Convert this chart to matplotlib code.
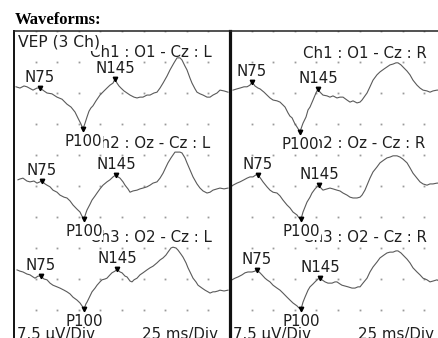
import matplotlib
matplotlib.use("Agg")
import matplotlib.pyplot as plt
import numpy as np

# ---------------- data (ms, uV; positive = P = plotted downward) ----------------
t_left_ch1 = [2.3, 6.9, 11.6, 15.0, 22.0, 26.6, 30.1, 34.7, 38.2, 43.9, 49.8, 55.6, 61.3, 66.0, 70.6, 74.1,
              77.5, 79.9, 82.2, 84.5, 86.8, 89.1, 91.4, 94.9, 99.5, 104.2, 107.6, 111.1, 114.6, 116.9, 119.2,
              121.5, 123.8, 127.3, 130.8, 134.3, 138.9, 142.4, 145.8, 149.3, 153.9, 157.4, 162.0, 165.5, 169.0,
              172.5, 177.1, 180.6, 185.2, 188.7, 192.1, 194.4, 197.9, 200.2, 203.7, 206.0, 209.5, 211.8, 215.3,
              218.8, 223.4, 226.9, 230.3, 235.0, 238.4, 243.1, 247.7]
v_left_ch1 = [-1.5, -1.2, -1.7, -1.5, -0.7, -1.2, -1.2, -0.5, 0.0, 0.2, 1.0, 1.5, 2.7, 3.4, 4.6, 6.1,
              7.5, 8.7, 7.3, 5.8, 4.4, 3.6, 3.1, 1.9, 0.5, -0.5, -1.2, -1.9, -2.4, -3.4, -2.4,
              -1.7, -1.2, -0.5, 0.0, 0.5, 1.0, 1.2, 1.0, 1.0, 0.5, 0.5, 0.0, -0.2, -1.2,
              -2.4, -4.1, -5.6, -7.3, -8.5, -8.5, -8.0, -6.5, -5.6, -3.6, -2.4, -1.0, -0.2, 0.2,
              0.5, 1.0, 1.0, 0.5, 0.0, -0.7, -0.5, -0.2]

t_left_ch2 = [4.6, 6.9, 10.4, 15.0, 18.5, 23.1, 26.6, 32.4, 35.9, 38.2, 41.7, 45.1, 49.8, 53.2, 57.9, 61.3,
              64.8, 68.3, 72.9, 76.4, 78.7, 81.0, 83.3, 84.5, 88.0, 90.3, 93.8, 96.1, 99.5, 103.0, 107.6,
              111.1, 114.6, 118.1, 120.4, 122.7, 126.2, 128.5, 131.9, 134.3, 137.7, 142.4, 145.8, 149.3, 153.9,
              157.4, 160.9, 165.5, 169.0, 172.5, 175.9, 178.2, 181.7, 184.0, 186.3, 188.7, 192.1, 194.4, 197.9,
              200.2, 203.7, 207.2, 211.8, 215.3, 218.8, 223.4, 226.9, 230.3, 235.0, 238.4, 243.1, 247.7]
v_left_ch2 = [-1.5, -1.7, -1.9, -1.2, -1.0, -1.2, -0.7, -1.2, -0.5, -0.2, 0.2, 1.0, 1.5, 2.2, 2.7, 2.9,
              3.6, 4.6, 5.6, 6.3, 7.3, 8.0, 6.5, 5.8, 4.4, 3.4, 2.4, 1.7, 0.7, -0.2, -1.0,
              -1.5, -2.2, -2.7, -2.2, -1.9, -1.0, -0.2, 0.7, 1.5, 1.2, 1.0, 0.7, 0.5, 0.2,
              -0.2, -0.7, -1.0, -1.9, -3.1, -4.6, -5.6, -6.8, -7.5, -8.2, -8.2, -8.2, -8.0, -6.8,
              -5.6, -3.9, -2.2, -0.5, 0.5, 1.2, 1.7, 1.5, 1.0, 0.7, 0.5, 0.7, 0.5]

t_left_ch3 = [3.5, 6.9, 10.4, 15.0, 18.5, 22.0, 24.3, 27.8, 31.3, 34.7, 38.2, 41.7, 45.1, 49.8, 53.2, 57.9,
              61.3, 64.8, 68.3, 72.9, 76.4, 78.7, 81.0, 83.3, 84.5, 88.0, 90.3, 93.8, 96.1, 99.5, 101.9,
              105.3, 107.6, 111.1, 113.4, 116.9, 119.2, 122.7, 125.0, 128.5, 130.8, 134.3, 136.6, 138.9, 142.4,
              145.8, 149.3, 153.9, 157.4, 160.9, 165.5, 169.0, 172.5, 175.9, 178.2, 181.7, 184.0, 187.5, 189.8,
              193.3, 195.6, 199.1, 201.4, 204.9, 207.2, 210.6, 213.0, 217.6, 221.1, 224.5, 226.9, 230.3, 232.6,
              236.1, 238.4, 243.1, 247.7]
v_left_ch3 = [-2.2, -1.9, -1.7, -1.2, -1.0, -0.5, -0.2, -0.7, -0.7, 0.0, 0.2, 1.0, 1.5, 1.9, 2.2, 2.7,
              3.1, 3.6, 4.4, 5.1, 5.8, 6.5, 7.3, 6.0, 5.6, 4.1, 3.1, 2.2, 1.5, 0.7, 0.2,
              0.0, -0.2, -1.0, -1.5, -1.9, -2.4, -1.7, -1.5, -0.7, -0.5, 0.5, 0.7, 0.2, -0.2,
              -1.0, -1.5, -2.2, -2.7, -3.1, -3.9, -4.6, -5.1, -5.8, -6.5, -7.5, -7.7, -7.5, -7.0,
              -6.0, -5.3, -3.9, -2.7, -1.2, -0.2, 0.7, 1.5, 2.2, 2.7, 3.1, 3.4, 3.1, 3.1,
              2.9, 2.7, 2.9, 2.7]

t_right_ch1 = [3.5, 8.1, 11.6, 16.2, 19.7, 23.1, 25.5, 28.9, 32.4, 34.7, 39.4, 42.8, 46.3, 49.8, 54.4, 57.9,
               61.3, 63.7, 67.1, 69.4, 71.8, 75.2, 77.5, 81.0, 83.3, 84.5, 88.0, 90.3, 92.6, 96.1, 99.5,
               101.9, 104.2, 107.6, 112.3, 115.7, 119.2, 123.8, 127.3, 130.8, 135.4, 138.9, 142.4, 147.0, 150.5,
               152.8, 156.2, 158.6, 162.0, 165.5, 170.1, 173.6, 178.2, 181.7, 185.2, 188.7, 192.1, 194.4, 197.9,
               200.2, 204.9, 208.3, 211.8, 216.4, 219.9, 223.4, 228.0, 231.5, 234.9, 239.6, 241.9]
v_right_ch1 = [-0.7, -1.0, -1.2, -1.5, -1.5, -1.9, -2.7, -1.7, -1.2, -1.0, -0.2, 0.5, 1.2, 1.7, 1.9, 2.2,
               2.9, 3.4, 4.8, 5.6, 6.0, 7.5, 8.2, 9.4, 8.0, 7.3, 5.8, 4.1, 3.4, 1.7, 0.0,
               -1.0, -0.2, 0.5, 0.7, 1.0, 0.7, 1.2, 1.0, 1.0, 1.7, 2.2, 1.9, 2.4, 2.2,
               1.7, 0.7, 0.0, -1.5, -3.1, -4.4, -5.1, -5.8, -6.3, -6.8, -7.0, -7.3, -7.3, -6.8,
               -6.3, -5.3, -4.4, -3.1, -1.9, -1.2, -0.7, -0.5, -0.2, -0.5, -0.7, -0.7]

t_right_ch2 = [2.3, 3.5, 8.1, 11.6, 16.2, 19.7, 23.1, 26.6, 30.1, 32.4, 35.9, 38.2, 42.8, 46.3, 49.8, 54.4,
               57.9, 61.3, 66.0, 69.4, 72.9, 77.5, 79.9, 82.2, 84.5, 86.8, 89.1, 92.6, 94.9, 98.4, 100.7,
               103.0, 105.3, 107.6, 112.3, 115.7, 119.2, 123.8, 127.3, 130.8, 135.4, 138.9, 142.4, 147.0, 150.5,
               152.8, 156.2, 158.6, 162.0, 165.5, 170.1, 173.6, 178.2, 181.7, 185.2, 188.7, 193.3, 196.8, 200.2,
               204.9, 208.3, 211.8, 216.4, 219.9, 223.4, 228.0, 231.5, 234.9, 239.6, 241.9]
v_right_ch2 = [0.0, -0.2, -0.7, -1.0, -1.5, -1.9, -2.2, -2.2, -2.7, -2.7, -1.7, -1.0, 0.2, 1.0, 1.5, 1.7,
               2.4, 3.4, 4.6, 5.3, 6.3, 7.0, 7.7, 8.0, 6.3, 5.1, 3.9, 2.7, 1.7, 0.7, 0.2,
               -0.2, 0.5, 1.0, 0.7, 0.5, 0.7, 1.0, 1.2, 1.7, 2.2, 2.7, 2.9, 2.9, 2.7,
               2.2, 1.0, -0.2, -1.9, -3.4, -4.6, -5.6, -6.3, -6.8, -7.0, -7.3, -7.3, -7.0, -6.5,
               -5.6, -4.4, -3.1, -1.9, -1.0, -0.5, -0.2, -0.5, -0.5, -0.7, -0.7]

t_right_ch3 = [2.3, 5.8, 9.3, 13.9, 17.4, 20.8, 25.5, 28.9, 31.3, 34.7, 37.0, 40.5, 42.8, 46.3, 49.8, 54.4,
               57.9, 61.3, 66.0, 69.4, 72.9, 77.5, 79.9, 82.2, 84.5, 86.8, 90.3, 92.6, 96.1, 98.4, 101.9,
               104.2, 106.5, 110.0, 113.4, 118.1, 121.5, 123.8, 127.3, 129.6, 133.1, 136.6, 141.2, 144.7, 148.1,
               150.5, 153.9, 158.6, 162.0, 165.5, 170.1, 173.6, 178.2, 181.7, 185.2, 188.7, 192.1, 194.4, 197.9,
               200.2, 204.9, 208.3, 211.8, 216.4, 219.9, 223.4, 228.0, 231.5, 234.9, 239.6, 241.9]
v_right_ch3 = [0.2, -0.2, -0.5, -1.0, -1.5, -1.7, -1.7, -1.9, -2.2, -1.5, -1.0, -0.2, 0.2, 0.7, 1.5, 2.2,
               2.7, 3.4, 4.4, 5.1, 5.8, 6.5, 7.0, 7.3, 5.6, 4.4, 2.7, 1.9, 1.2, 0.7, 0.0,
               -0.2, 0.2, 0.7, 1.0, 1.0, 0.7, 0.7, 1.2, 1.5, 1.7, 1.9, 2.2, 2.2, 1.9,
               1.9, 1.0, -0.2, -1.7, -2.9, -4.1, -5.1, -5.8, -6.3, -6.5, -6.5, -6.8, -6.8, -6.3,
               -5.8, -4.8, -3.9, -2.7, -1.7, -1.0, -0.2, 0.2, 0.7, 0.5, 0.2, 0.5]

peak_names = ["N75", "P100", "N145"]
peak_t_left = [[30.1, 79.9, 116.9], [32.4, 81.0, 118.1], [31.3, 81.0, 119.2]]
peak_v_left = [[-1.2, 8.7, -3.4], [-1.2, 8.0, -2.7], [-0.7, 7.3, -2.4]]
peak_t_right = [[25.5, 81.0, 101.9], [32.4, 82.2, 103.0], [31.3, 82.2, 104.2]]
peak_v_right = [[-2.7, 9.4, -1.0], [-2.7, 8.0, -0.2], [-2.2, 7.3, -0.2]]

channel_labels_left = ["Ch1 : O1 - Cz : L", "Ch2 : Oz - Cz : L", "Ch3 : O2 - Cz : L"]
channel_labels_right = ["Ch1 : O1 - Cz : R", "Ch2 : Oz - Cz : R", "Ch3 : O2 - Cz : R"]
title_text = "Waveforms:"
mode_text = "VEP (3 Ch)"
amp_scale_text = "7.5 \u03bcV/Div"
time_scale_text = "25 ms/Div"

# ---------------- layout ----------------
W, H = 439, 338
fig = plt.figure(figsize=(W / 100, H / 100), dpi=100)
fig.patch.set_facecolor("white")

uv_per_div = 7.5
ms_per_div = 25
n_xdiv, n_ydiv = 10, 10
offsets = [15.0, 37.5, 60.0]        # channel baselines (uV from top)
trace_color = "#5a5a5a"
text_color = "#1e1e1e"
fs = 10.8

panel_w = 216 / W
panel_h = 310 / H
panel_bottom = (H - 341) / H
panels = [
    (14 / W, [t_left_ch1, t_left_ch2, t_left_ch3], [v_left_ch1, v_left_ch2, v_left_ch3],
     peak_t_left, peak_v_left, channel_labels_left, 88.0, [5.1, 27.3, 50.0]),
    (230 / W, [t_right_ch1, t_right_ch2, t_right_ch3], [v_right_ch1, v_right_ch2, v_right_ch3],
     peak_t_right, peak_v_right, channel_labels_right, 85.0, [5.4, 27.3, 50.0]),
]

axes = []
for i, (x0, ts, vs, pts, pvs, labels, lab_x, lab_y) in enumerate(panels):
    ax = fig.add_axes([x0, panel_bottom, panel_w, panel_h])
    ax.set_xlim(0, ms_per_div * n_xdiv)
    ax.set_ylim(uv_per_div * n_ydiv, 0)
    ax.set_facecolor("none")
    ax.set_xticks([]); ax.set_yticks([])
    for s in ["right", "bottom"]:
        ax.spines[s].set_visible(False)
    ax.spines["top"].set_linewidth(1.1)
    ax.spines["top"].set_color("#222222")
    ax.spines["left"].set_color("#111111")
    ax.spines["left"].set_linewidth(1.4 if i == 0 else 2.3)
    ax.spines["top"].set_zorder(6); ax.spines["left"].set_zorder(6)

    # dotted grid
    gx, gy = np.meshgrid(np.arange(1, n_xdiv) * ms_per_div, np.arange(0, n_ydiv) * uv_per_div)
    ax.plot(gx.ravel(), gy.ravel(), ls="none", marker="s", ms=1.3, mew=0, color="#9a9a9a", zorder=1)

    for k in range(3):
        ax.plot(ts[k], np.array(vs[k]) + offsets[k], color=trace_color, lw=0.8, zorder=2)
        # channel label
        ax.text(lab_x, lab_y[k], labels[k], fontsize=fs, color=text_color, ha="left", va="center",
                clip_on=True, zorder=3)
        for name, pt, pv in zip(peak_names, pts[k], pvs[k]):
            y = pv + offsets[k]
            ax.plot([pt], [y], marker="v", ms=3.2, color="black", ls="none", zorder=4)
            if name.startswith("N"):
                ax.annotate(name, (pt, y), xytext=(0, 7.5), textcoords="offset points",
                            ha="center", va="center", fontsize=fs, color=text_color, zorder=5,
                            annotation_clip=False)
            else:
                ax.annotate(name, (pt, y), xytext=(0, -9.0), textcoords="offset points",
                            ha="center", va="center", fontsize=fs, color=text_color, zorder=5,
                            annotation_clip=False,
                            bbox=dict(boxstyle="square,pad=0.05", fc="white", ec="none"))
    # scale texts
    ax.text(4.0, 73.4, amp_scale_text, fontsize=fs, color=text_color, ha="left", va="center",
            clip_on=False, zorder=5)
    ax.text(236.0, 73.4, time_scale_text, fontsize=fs, color=text_color, ha="right", va="center",
            clip_on=False, zorder=5)
    axes.append(ax)

# mode label over the first channel label
axes[0].text(4.6, 2.7, mode_text, fontsize=fs + 0.4, color=text_color, ha="left", va="center", zorder=7,
             bbox=dict(boxstyle="square,pad=0.1", fc="white", ec="none"))

fig.text(15 / W, 1 - 20 / H, title_text, fontsize=12, fontweight="bold",
         family="Liberation Serif", ha="left", va="center", color="black")

fig.savefig("out.png", dpi=100)
